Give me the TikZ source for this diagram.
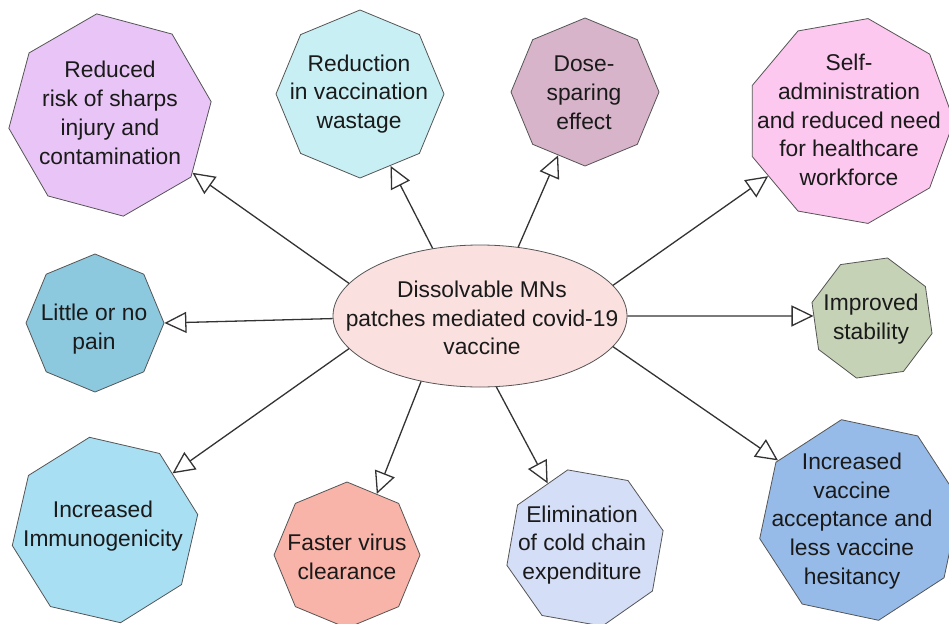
\documentclass[tikz,border=0pt]{standalone}
\usepackage{fontspec}
\setmainfont{Liberation Sans}
\usetikzlibrary{shapes.geometric,arrows.meta}
\definecolor{cpurple}{HTML}{E9C5F7}
\definecolor{ccyan}{HTML}{C8F0F4}
\definecolor{cmauve}{HTML}{D8B4CA}
\definecolor{cpink}{HTML}{FDC8EF}
\definecolor{csage}{HTML}{C5D2B6}
\definecolor{csteel}{HTML}{8DC9DE}
\definecolor{clblue}{HTML}{A9DFF3}
\definecolor{csalmon}{HTML}{F8B4A9}
\definecolor{cperi}{HTML}{D5DEF7}
\definecolor{cmblue}{HTML}{97BBE8}
\definecolor{cell}{HTML}{FBE0E0}
\definecolor{polyline}{HTML}{555555}
\definecolor{linkc}{HTML}{333333}
\definecolor{txt}{HTML}{1A1A1A}
\begin{document}
\begin{tikzpicture}[x=1pt,y=-1pt,
  poly/.style={regular polygon, draw=polyline, line width=0.8pt, inner sep=0pt},
  lbl/.style={align=center, font=\fontsize{22.8}{28.8}\selectfont, text=txt, inner sep=0pt},
  link/.style={draw=linkc, line width=1.3pt, -{Triangle[open,length=22pt,width=21pt]}}]
\useasboundingbox[fill=white] (0,0) rectangle (949,623);
% center
\node[ellipse, draw=polyline, line width=0.8pt, fill=cell, minimum width=294pt, minimum height=142pt, inner sep=0pt] (e) at (480,316) {};
\node[lbl] (te) at (482,318) {Dissolvable MNs\\patches mediated covid-19\\vaccine};
% polygons
\node[poly, regular polygon sides=8, shape border rotate=30, minimum size=204pt, fill=cpurple] (p1) at (110,115) {};
\node[lbl] (t1) at (110,113) {Reduced\\risk of sharps\\injury and\\contamination};
\node[poly, regular polygon sides=8, shape border rotate=22.5, minimum size=168pt, fill=ccyan] (p2) at (360,94) {};
\node[lbl] (t2) at (359,94) {Reduction\\in vaccination\\wastage};
\node[poly, regular polygon sides=8, shape border rotate=22.5, minimum size=148pt, fill=cmauve] (p3) at (585,92) {};
\node[lbl] (t3) at (584,93) {Dose-\\sparing\\effect};
\node[poly, regular polygon sides=9, shape border rotate=-10, minimum size=208pt, fill=cpink] (p4) at (850,121) {};
\node[lbl] (t4) at (849,120) {Self-\\administration\\and reduced need\\for healthcare\\workforce};
\node[poly, regular polygon sides=8, shape border rotate=8, minimum size=124pt, fill=csage] (p5) at (872,318) {};
\node[lbl] (t5) at (871,319) {Improved\\stability};
\node[poly, regular polygon sides=8, shape border rotate=22.5, minimum size=138pt, fill=csteel] (p6) at (95,323) {};
\node[lbl] (t6) at (94,329) {Little or no\\pain};
\node[poly, regular polygon sides=8, shape border rotate=32, minimum size=188pt, fill=clblue] (p7) at (105,530) {};
\node[lbl] (t7) at (103,526) {Increased\\Immunogenicity};
\node[poly, regular polygon sides=8, shape border rotate=22.5, minimum size=146pt, fill=csalmon] (p8) at (347,555) {};
\node[lbl] (t8) at (347,557) {Faster virus\\clearance};
\node[poly, regular polygon sides=8, shape border rotate=35, minimum size=160pt, fill=cperi] (p9) at (585,548) {};
\node[lbl] (t9) at (582,545) {Elimination\\of cold chain\\expenditure};
\node[poly, regular polygon sides=8, shape border rotate=33, minimum size=204pt, fill=cmblue] (p10) at (860,520) {};
\node[lbl] (t10) at (852,521) {Increased\\vaccine\\acceptance and\\less vaccine\\hesitancy};
% connectors
\draw[link] (e.166.7) -- (p1.-35.8);
\draw[link] (e.125.1) -- (p2.-67.8);
\draw[link] (e.61.3) -- (p3.-113.2);
\draw[link] (e.13.1) -- (p4.-146.3);
\draw[link] (e.0) -- (p5.178);
\draw[link] (e.181) -- (p6.0);
\draw[link] (e.-166.3) -- (p7.40.3);
\draw[link] (e.-132.1) -- (p8.64.5);
\draw[link] (e.-77.9) -- (p9.120.6);
\draw[link] (e.-13) -- (p10.144.4);
\end{tikzpicture}
\end{document}
